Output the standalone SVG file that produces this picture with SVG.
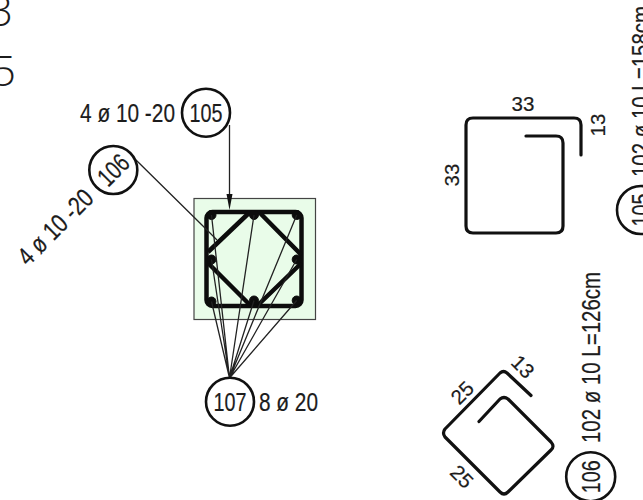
<svg xmlns="http://www.w3.org/2000/svg" width="643" height="500" viewBox="0 0 643 500">
<style>
text{font-family:"Liberation Sans",Arial,sans-serif;fill:#1c1c1c;stroke:#1c1c1c;stroke-width:.2}
.lab{font-size:26px;text-anchor:start}
.dim{font-size:20.5px;text-anchor:middle}
.num{font-size:26px;text-anchor:middle}
.big{font-family:"Open Sans","Liberation Sans",sans-serif;font-size:42px;font-weight:300;stroke:none}
.tag{fill:#fff;stroke:#111;stroke-width:2.6}
.bar{fill:none;stroke:#111;stroke-width:3.2;stroke-linecap:round;stroke-linejoin:round}
.lead{fill:none;stroke:#222;stroke-width:1.3}
.heavy{fill:none;stroke:#0c0c0c;stroke-width:4.5;stroke-linejoin:round}
.dot{fill:#0c0c0c;stroke:#0c0c0c}
</style>

<g id="cutoff-text">
<text class="big" x="-11" y="26">3</text>
<text class="big" x="-8" y="86">5</text>
</g>

<g id="section">
<rect x="194" y="198.5" width="121.5" height="121" fill="#e9fce9" stroke="#444" stroke-width="1.2"/>
<rect x="206.5" y="212" width="95" height="94" rx="6" class="heavy"/>
<path class="heavy" d="M208,252 L250,212 M260,213 L301.5,255 M208,263 L250,305 M258,305 L301.5,263"/>
<g class="dot">
<circle cx="211.5" cy="215" r="4.5"/><circle cx="254" cy="215" r="4.5"/><circle cx="296.7" cy="215" r="4.5"/>
<circle cx="211.5" cy="259.5" r="4.5"/><circle cx="296.7" cy="259.5" r="4.5"/>
<circle cx="211.5" cy="301.5" r="4.5"/><circle cx="254" cy="300.5" r="4.5"/><circle cx="296.7" cy="300.5" r="4.5"/>
</g>
</g>

<g id="connectors">
<path class="lead" d="M229.5,125 V200"/>
<path d="M226.5,194 L232.5,194 L229.5,210 Z" fill="#111"/>
<path class="lead" d="M136,160 L205,228 L217,240"/>
<path class="lead" d="M229.5,378 L211.5,215 M229.5,378 L211.5,259.5 M229.5,378 L211.5,301.5 M229.5,378 L254,215 M229.5,378 L296.7,215 M229.5,378 L254,300.5 M229.5,378 L296.7,259.5 M229.5,378 L296.7,300.5"/>
</g>

<g id="node-105">
<circle class="tag" cx="206" cy="112.7" r="24"/>
<text class="num" x="206" y="122" textLength="33" lengthAdjust="spacingAndGlyphs">105</text>
<text class="lab" x="80" y="122" textLength="95" lengthAdjust="spacingAndGlyphs">4 ø 10 -20</text>
</g>

<g id="node-106">
<circle class="tag" cx="113.3" cy="170" r="24"/>
<text class="num" transform="translate(113.3 170) rotate(-45)" x="0" y="9" textLength="33" lengthAdjust="spacingAndGlyphs">106</text>
<text class="lab" transform="translate(28 267) rotate(-45)" x="0" y="0" textLength="95" lengthAdjust="spacingAndGlyphs">4 ø 10 -20</text>
</g>

<g id="node-107">
<circle class="tag" cx="230" cy="401.7" r="24"/>
<text class="num" x="230" y="410.5" textLength="33" lengthAdjust="spacingAndGlyphs">107</text>
<text class="lab" x="259" y="410.5" textLength="59" lengthAdjust="spacingAndGlyphs">8 ø 20</text>
</g>

<g id="shape-105">
<path class="bar" d="M581,155 V125 Q581,118 574,118 H473 Q466,118 466,125 V226 Q466,233 473,233 H556 Q563,233 563,226 V143 Q563,136 556,136 H526"/>
<text class="dim" x="523" y="111">33</text>
<text class="dim" transform="translate(604.5 125) rotate(-90)" x="0" y="0">13</text>
<text class="dim" transform="translate(458.5 175) rotate(-90)" x="0" y="0">33</text>
<circle class="tag" cx="641" cy="210" r="24"/>
<text class="num" transform="translate(650 210) rotate(-90)" x="0" y="0" textLength="33" lengthAdjust="spacingAndGlyphs">105</text>
<text class="lab" transform="translate(650 177) rotate(-90)" x="0" y="0" textLength="171" lengthAdjust="spacingAndGlyphs">102 ø 10 L=158cm</text>
</g>

<g id="shape-106">
<path class="bar" d="M531,395.5 L507,373 Q503.5,370 500,373 L445,429 Q442,433 445,437 L500,492 Q504,496 508,492 L551,450 Q555,446.5 551,442 L508,399 Q504,396 500,399 L479,421.5"/>
<text class="dim" transform="translate(462.3 392.7) rotate(-45)" x="0" y="7">25</text>
<text class="dim" transform="translate(461.7 476.7) rotate(45)" x="0" y="7">25</text>
<text class="dim" transform="translate(522.7 366.7) rotate(45)" x="0" y="7">13</text>
<circle class="tag" cx="590.7" cy="476.7" r="24.5"/>
<text class="num" transform="translate(600 476.7) rotate(-90)" x="0" y="0" textLength="33" lengthAdjust="spacingAndGlyphs">106</text>
<text class="lab" transform="translate(600 443) rotate(-90)" x="0" y="0" textLength="171" lengthAdjust="spacingAndGlyphs">102 ø 10 L=126cm</text>
</g>
</svg>
